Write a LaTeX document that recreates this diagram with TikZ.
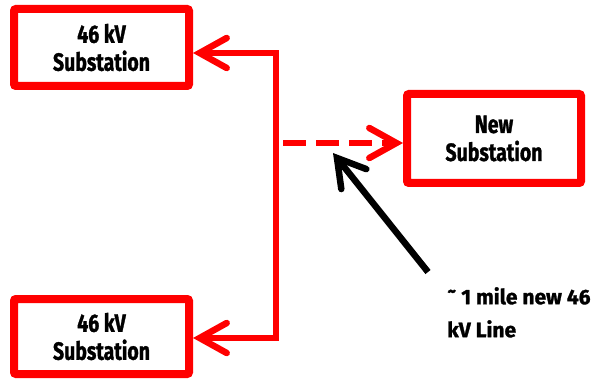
\documentclass[tikz,border=0pt]{standalone}
\usepackage{fontspec}
\setmainfont{Fira Sans}[FakeStretch=0.78, FakeBold=1.2]
\newfontfamily\notefont{Fira Sans}[FakeBold=1.2]
\usetikzlibrary{arrows.meta}
\tikzset{
    substation/.style={draw=red, line width=8pt, rounded corners=2pt,
    	fill=white, align=center, inner sep=0pt, minimum width=175pt,
    	font=\fontsize{25}{28}\selectfont\bfseries},
    feed/.style={draw=red, line width=6.5pt, line join=miter,
    	arrows={Straight Barb[length=27pt, width=30pt, line cap=round]-Straight Barb[length=27pt, width=30pt, line cap=round]}}
}
\tikzset{
    newline/.style={draw=red, line width=6.5pt, dash pattern=on 23pt off 10pt,
    	-{Straight Barb[length=27pt, width=30pt, line cap=round]}}
}
\tikzset{
    pointer/.style={draw=black, line width=6.5pt,
    	-{Straight Barb[length=27pt, width=32pt, line cap=round]}}
}

\begin{document}
\begin{tikzpicture}[x=1pt, y=-1pt]
	\useasboundingbox (0,0) rectangle (594,379);
	\node[substation, minimum height=77pt] (top) at (101.5,47.5) {46 kV\\Substation};
	\node[substation, minimum height=75pt] (bot) at (101.5,336.5) {46 kV\\Substation};
	\node[substation, minimum width=174pt, minimum height=89pt] (new) at (494,138.5) {New\\Substation};
	\coordinate (jt) at (276,53);
	\coordinate (jb) at (276,338);
	\coordinate (tap) at (283,143);
	\coordinate (tail) at (428,272);
	\coordinate (tip) at (333,153);
	\node[anchor=north west, align=left, inner sep=0pt,
		font=\notefont\fontsize{21}{33}\selectfont\bfseries] (lbl) at (447,287)
		{\raisebox{-0.1em}{\char"02DC} 1 mile new 46\\kV Line};
	
	\draw[feed] (top.east |- jt) -- (jt) -- (jb) -- (bot.east |- jb);
	\draw[newline] (tap) -- (new.west |- tap);
	\draw[pointer] (tail) -- (tip);
\end{tikzpicture}
\end{document}
